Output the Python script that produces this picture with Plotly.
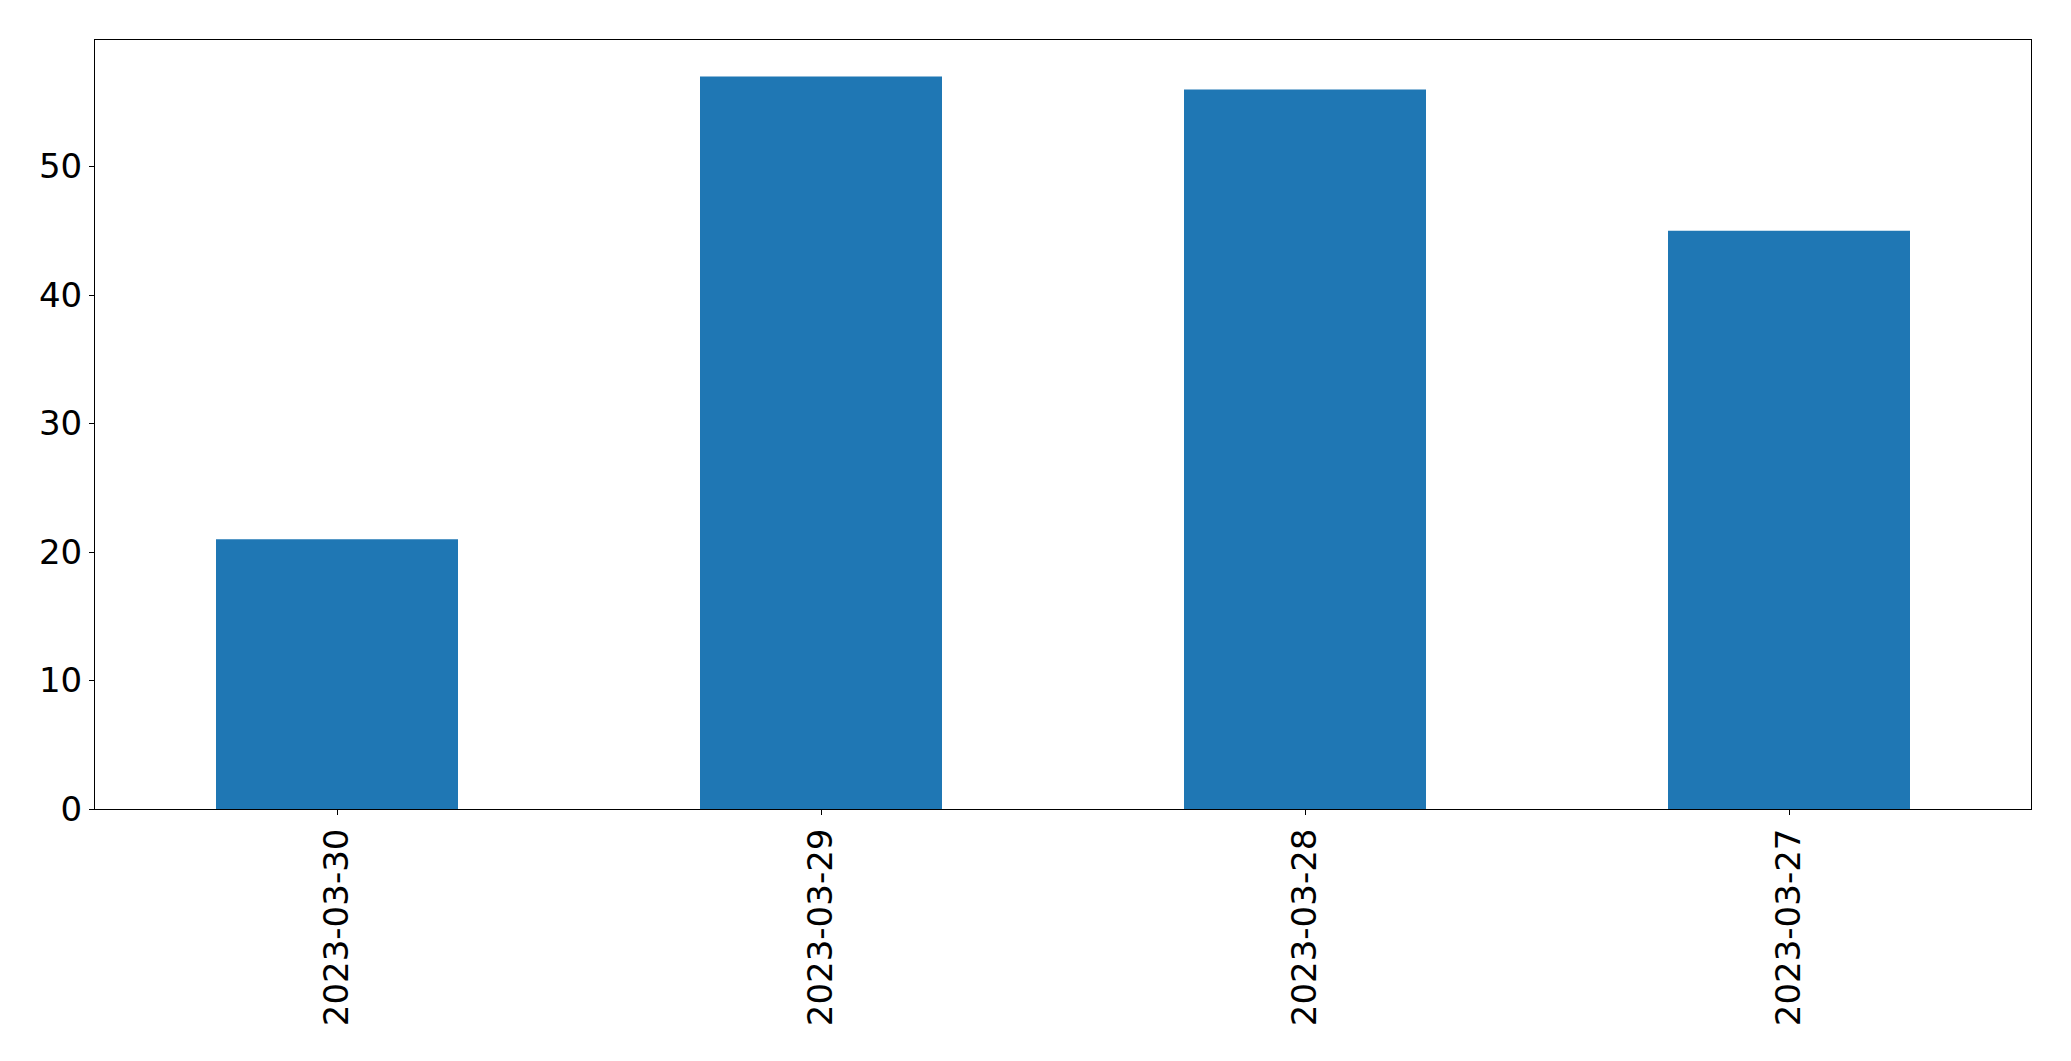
import plotly.graph_objects as go

dates = ["2023-03-30", "2023-03-29", "2023-03-28", "2023-03-27"]
counts = [21, 57, 56, 45]

fig = go.Figure()

fig.add_trace(
    go.Bar(
        x=dates,
        y=counts,
        width=0.5,
        marker=dict(color="#1f77b4", line=dict(width=0)),
    )
)

# the page body adds an 8px offset, so the figure is 8px smaller
fig.update_layout(
    width=2063,
    height=1053,
    margin=dict(l=87, r=40, t=32, b=252),
    paper_bgcolor="white",
    plot_bgcolor="white",
    font=dict(family="DejaVu Sans", size=34, color="black"),
    showlegend=False,

    xaxis=dict(
        type="category",
        range=[-0.5, 3.5],
        tickangle=-90,
        ticks="outside",
        ticklen=5,
        tickwidth=1,
        tickcolor="black",
        showline=True,
        linecolor="black",
        linewidth=1,
        mirror=True,
        showgrid=False,
        zeroline=False,
    ),

    yaxis=dict(
        range=[0, 59.85],
        tickvals=[0, 10, 20, 30, 40, 50],
        ticks="outside",
        ticklen=5,
        tickwidth=1,
        tickcolor="black",
        showline=True,
        linecolor="black",
        linewidth=1,
        mirror=True,
        showgrid=False,
        zeroline=False,
    ),
)

fig.write_html("out.html")
